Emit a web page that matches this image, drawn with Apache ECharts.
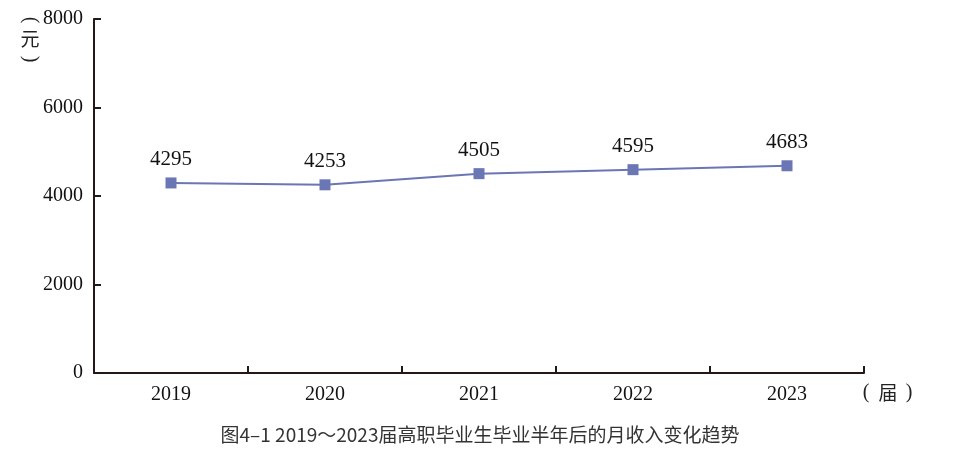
<!DOCTYPE html>
<html>
<head>
<meta charset="utf-8">
<script src="https://cdn.jsdelivr.net/npm/echarts@6/dist/echarts.min.js"></script>
<style>
html,body{margin:0;padding:0;background:#fff;}
#main{width:960px;height:456px;}
</style>
</head>
<body>
<div id="main"></div>
<script>
var categories = ['2019', '2020', '2021', '2022', '2023'];
var incomeValues = [4295, 4253, 4505, 4595, 4683];
var yTicks = [0, 2000, 4000, 6000, 8000];
var captionText = '图4–1 2019～2023届高职毕业生毕业半年后的月收入变化趋势';
var yAxisUnit = '元';
var xAxisUnit = '届';

var chart = echarts.init(document.getElementById('main'), null, {renderer: 'canvas'});
var serif = '"Liberation Serif", "Times New Roman", serif';
var cjk = '"Noto Sans CJK SC", sans-serif';
var axisColor = '#231815';
var lineColor = '#6b76b4';

function txt(t, x, y, font, rot) {
  return {type: 'text', x: x, y: y, rotation: rot || 0,
    style: {text: t, fill: '#222', font: font, textAlign: 'center', textVerticalAlign: 'middle'}};
}

chart.setOption({
  animation: false,
  backgroundColor: '#ffffff',
  grid: {left: 94, right: 96, top: 19, bottom: 83, containLabel: false},
  xAxis: {
    type: 'category',
    data: categories,
    boundaryGap: true,
    axisLine: {show: true, lineStyle: {color: axisColor, width: 2}},
    axisTick: {show: true, inside: true, length: 7, interval: 0, lineStyle: {color: axisColor, width: 2}},
    axisLabel: {color: '#111', fontFamily: serif, fontSize: 20, margin: 12},
    splitLine: {show: false}
  },
  yAxis: {
    type: 'value',
    min: yTicks[0],
    max: yTicks[yTicks.length - 1],
    interval: 2000,
    axisLine: {show: true, lineStyle: {color: axisColor, width: 2}},
    axisTick: {show: true, inside: true, length: 7, lineStyle: {color: axisColor, width: 2}},
    axisLabel: {color: '#111', fontFamily: serif, fontSize: 20, margin: 11, formatter: function (v) { return String(v); }},
    splitLine: {show: false}
  },
  series: [{
    type: 'line',
    data: incomeValues,
    symbol: 'rect',
    symbolSize: 11,
    lineStyle: {color: lineColor, width: 2},
    itemStyle: {color: lineColor},
    label: {show: true, position: 'top', distance: 7, color: '#111', fontFamily: serif, fontSize: 21}
  }],
  graphic: [
    {type: 'text', left: 'center', top: 425, style: {text: captionText, fill: '#333', font: '19px ' + cjk}},
    txt('(', 30, 20, '20px ' + serif, -Math.PI / 2),
    txt(yAxisUnit, 30, 39, '19px ' + cjk, 0),
    txt(')', 30, 59, '20px ' + serif, -Math.PI / 2),
    txt('(', 866, 393, '20px ' + serif, 0),
    txt(xAxisUnit, 888, 393, '19px ' + cjk, 0),
    txt(')', 909, 393, '20px ' + serif, 0)
  ]
});
</script>
</body>
</html>
